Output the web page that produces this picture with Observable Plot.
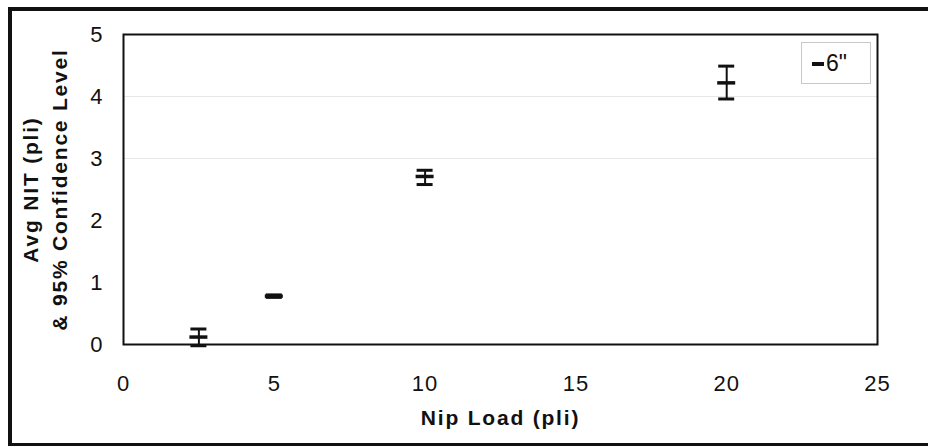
<!DOCTYPE html>
<html><head><meta charset="utf-8">
<script src="https://cdn.jsdelivr.net/npm/d3@7"></script>
<script src="https://cdn.jsdelivr.net/npm/@observablehq/plot@0.6"></script>
<style>
html,body{margin:0;padding:0;background:#fff;overflow:hidden;}
#wrap{position:relative;width:928px;height:446px;overflow:hidden;}
#border{position:absolute;left:8px;top:7px;width:960px;height:432px;border:4px solid #111;border-right:none;pointer-events:none;}
#legend{position:absolute;left:801px;top:42px;width:68px;height:40px;border:1px solid #c8c8c8;font-family:"Liberation Sans",Arial,sans-serif;font-size:23px;color:#111;}
#legend .dash{position:absolute;left:10px;top:19px;width:12px;height:4px;background:#111;}
#legend .lab{position:absolute;left:24px;top:6px;line-height:28px;}
.nit text{letter-spacing:1px;}
.nit text.title{letter-spacing:1.8px;}
</style></head>
<body><div id="wrap"><div id="chart"></div><div id="border"></div><div id="legend"></div></div>
<script>
const nipLoad = [2.5, 5, 10, 20];
const avgNIT = [0.12, 0.78, 2.71, 4.22];
const ciLow = [-0.02, 0.76, 2.58, 3.96];
const ciHigh = [0.25, 0.80, 2.81, 4.49];
const xTicks = [0, 5, 10, 15, 20, 25];
const yTicks = [0, 1, 2, 3, 4, 5];
const gridY = [3, 4];
const seriesName = '6"';
const xTitle = "Nip Load (pli)";
const yTitle1 = "Avg NIT (pli)";
const yTitle2 = "& 95% Confidence Level";

const data = nipLoad.map((x, i) => ({x, mean: avgNIT[i], lo: ciLow[i], hi: ciHigh[i]}));

const chart = Plot.plot({
  width: 928, height: 446,
  marginLeft: 123, marginRight: 51, marginTop: 34, marginBottom: 102,
  className: "nit",
  style: {fontFamily: '"Liberation Sans", Arial, sans-serif', fontSize: "22px", color: "#111", background: "white"},
  x: {domain: [0, 25], ticks: xTicks, tickFormat: d => String(d), tickSize: 0, tickPadding: 31, label: null},
  y: {domain: [0, 5], ticks: yTicks, tickFormat: d => String(d), tickSize: 0, tickPadding: 20, label: null},
  marks: [
    Plot.ruleY(gridY, {stroke: "#d0d0d0", strokeOpacity: 0.5}),
    Plot.frame({stroke: "#111", strokeWidth: 2}),
    Plot.ruleX(data, {x: "x", y1: "lo", y2: "hi", stroke: "#111", strokeWidth: 2}),
    Plot.ruleY(data, {x1: "x", x2: "x", y: "hi", insetLeft: -8, insetRight: -8, stroke: "#111", strokeWidth: 3}),
    Plot.ruleY(data, {x1: "x", x2: "x", y: "lo", insetLeft: -8, insetRight: -8, stroke: "#111", strokeWidth: 3}),
    Plot.ruleY(data, {x1: "x", x2: "x", y: "mean", insetLeft: -9, insetRight: -9, stroke: "#111", strokeWidth: 3.5}),
    Plot.text([xTitle], {frameAnchor: "bottom", dy: 80, text: d => d, fontWeight: "bold", fontSize: 21, fill: "#111"}),
    Plot.text([yTitle1], {frameAnchor: "left", textAnchor: "middle", dx: -92, rotate: -90, text: d => d, fontWeight: "bold", fontSize: 21, fill: "#111"}),
    Plot.text([yTitle2], {frameAnchor: "left", textAnchor: "middle", dx: -63, rotate: -90, text: d => d, fontWeight: "bold", fontSize: 21, fill: "#111"})
  ]
});
d3.select(chart).selectAll("text").filter(function() {
  const t = this.textContent; return t === xTitle || t === yTitle1 || t === yTitle2;
}).attr("class", "title");
document.getElementById("chart").appendChild(chart);

const lg = document.getElementById("legend");
lg.innerHTML = '<div class="dash"></div><div class="lab"></div>';
lg.querySelector(".lab").textContent = seriesName;
</script>
</body></html>
